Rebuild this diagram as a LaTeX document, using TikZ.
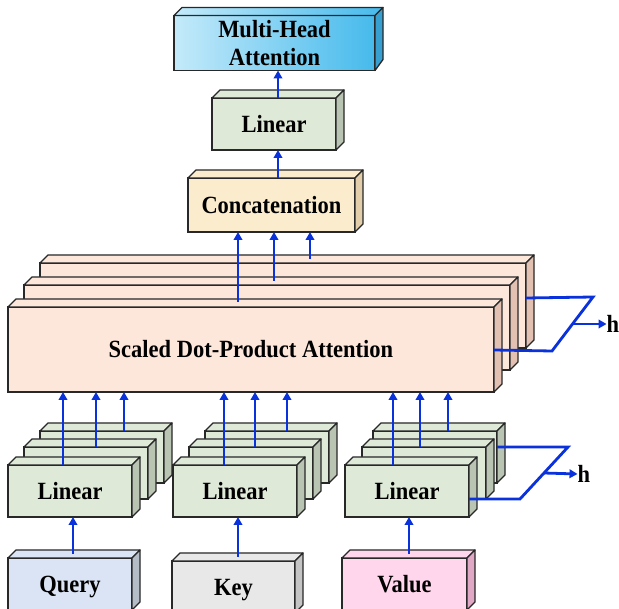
\documentclass[tikz,border=0pt]{standalone}
\usepackage{fontspec}
\setmainfont{Liberation Serif}
\usetikzlibrary{calc,arrows.meta}
\definecolor{arrblue}{RGB}{10,50,220}
\definecolor{edgec}{RGB}{40,40,40}
\definecolor{linF}{RGB}{222,233,216}
\definecolor{linS}{RGB}{185,196,178}
\definecolor{conF}{RGB}{252,236,206}
\definecolor{conS}{RGB}{226,206,170}
\definecolor{sdpF}{RGB}{253,230,218}
\definecolor{sdpS}{RGB}{226,192,178}
\definecolor{qF}{RGB}{219,228,244}
\definecolor{qS}{RGB}{180,188,200}
\definecolor{kF}{RGB}{232,232,232}
\definecolor{kS}{RGB}{196,196,196}
\definecolor{vF}{RGB}{255,214,236}
\definecolor{vS}{RGB}{224,168,196}
\definecolor{mhL}{RGB}{196,234,250}
\definecolor{mhR}{RGB}{70,186,236}
\definecolor{mhS}{RGB}{55,160,208}
\newcommand{\tallt}[1]{\raisebox{-3pt}[\height][\depth]{\scalebox{1}[1.1]{\begin{tabular}{@{}c@{}}#1\end{tabular}}}}
\tikzset{
  cubeface/.style={draw=edgec,line width=1.3pt,inner sep=0pt,outer sep=0pt,
    font=\bfseries\fontsize{22.5}{25}\selectfont,align=center},
  facedraw/.style={draw=edgec,line width=1.3pt,line join=round},
  arr/.style={draw=arrblue,line width=2.8pt,-{Triangle[length=8pt,width=8.5pt]}},
  conn/.style={draw=arrblue,line width=2.8pt},
  hlabel/.style={inner sep=0pt,font=\bfseries\fontsize{22.5}{25}\selectfont}
}
\newcommand{\cubebox}[8]{%
  \node[cubeface,#6,minimum width=#4pt,minimum height=#5pt] (#1) at (#2,#3) {#8};
  \path[facedraw,#6] (#1.north west) -- ++(8,-8) -- ($(#1.north east)+(8,-8)$) -- (#1.north east) -- cycle;
  \path[facedraw,fill=#7] (#1.north east) -- ++(8,-8) -- ++(0,#5) -- (#1.south east) -- cycle;
}
\begin{document}
\begin{tikzpicture}[x=1pt,y=-1pt]
\fill[white] (0,0) rectangle (619,609);
\useasboundingbox (0,0) rectangle (619,609);
% top
\cubebox{mha}{274.5}{43}{201}{52}{left color=mhL,right color=mhR}{mhS}{\tallt{Multi-Head\\Attention}}
\cubebox{lintop}{274}{124}{124}{52}{fill=linF}{linS}{\tallt{Linear}}
\cubebox{concat}{271.5}{205}{167}{54}{fill=conF}{conS}{\tallt{Concatenation}}
% scaled dot-product attention stack
\cubebox{sdpa3}{283}{305.5}{486}{85}{fill=sdpF}{sdpS}{}
\cubebox{sdpa2}{267}{327.5}{486}{85}{fill=sdpF}{sdpS}{}
\cubebox{sdpa1}{251}{349.5}{486}{85}{fill=sdpF}{sdpS}{\tallt{Scaled Dot-Product Attention}}
% linear stacks
\cubebox{lin1c}{102}{457}{124}{52}{fill=linF}{linS}{}
\cubebox{lin1b}{86}{473}{124}{52}{fill=linF}{linS}{}
\cubebox{lin1a}{70}{491}{124}{52}{fill=linF}{linS}{\tallt{Linear}}
\cubebox{lin2c}{267}{457}{124}{52}{fill=linF}{linS}{}
\cubebox{lin2b}{251}{473}{124}{52}{fill=linF}{linS}{}
\cubebox{lin2a}{235}{491}{124}{52}{fill=linF}{linS}{\tallt{Linear}}
\cubebox{lin3c}{435}{457}{124}{52}{fill=linF}{linS}{}
\cubebox{lin3b}{424}{473}{124}{52}{fill=linF}{linS}{}
\cubebox{lin3a}{407}{491}{124}{52}{fill=linF}{linS}{\tallt{Linear}}
% inputs
\cubebox{query}{70}{584}{124}{52}{fill=qF}{qS}{\tallt{Query}}
\cubebox{key}{233.5}{587}{123}{52}{fill=kF}{kS}{\tallt{Key}}
\cubebox{value}{404.5}{584}{125}{52}{fill=vF}{vS}{\tallt{Value}}
% arrows top
\draw[arr] ($(lintop.north)+(4,0)$) -- ($(mha.south)+(3.5,0)$);
\draw[arr] ($(concat.north)+(6.5,0)$) -- ($(lintop.south)+(4,0)$);
\draw[arr] ($(sdpa1.north)+(-13,-5)$) -- ($(concat.south)+(-33.5,0)$);
\draw[arr] ($(sdpa2.north)+(7,-4)$) -- ($(concat.south)+(2.5,0)$);
\draw[arr] ($(sdpa3.north)+(27,-4)$) -- ($(concat.south)+(38.5,0)$);
% linear to sdpa
\draw[arr] ($(lin1a.north)+(-7,0)$) -- ($(sdpa1.south)+(-188,0)$);
\draw[arr] ($(lin1b.north)+(10,0)$) -- ($(sdpa1.south)+(-155,0)$);
\draw[arr] ($(lin1c.north)+(22,0)$) -- ($(sdpa1.south)+(-127,0)$);
\draw[arr] ($(lin2a.north)+(-11,0)$) -- ($(sdpa1.south)+(-27,0)$);
\draw[arr] ($(lin2b.north)+(4,0)$) -- ($(sdpa1.south)+(4,0)$);
\draw[arr] ($(lin2c.north)+(20,0)$) -- ($(sdpa1.south)+(36,0)$);
\draw[arr] ($(lin3a.north)+(-14,0)$) -- ($(sdpa1.south)+(142,0)$);
\draw[arr] ($(lin3b.north)+(-4,0)$) -- ($(sdpa1.south)+(169,0)$);
\draw[arr] ($(lin3c.north)+(13,0)$) -- ($(sdpa1.south)+(197,0)$);
% inputs to linear
\draw[arr] ($(query.north)+(3,-4)$) -- ($(lin1a.south)+(3,0)$);
\draw[arr] ($(key.north)+(4.5,-4)$) -- ($(lin2a.south)+(3,0)$);
\draw[arr] ($(value.north)+(4.5,-4)$) -- ($(lin3a.south)+(2,0)$);
% h connectors
\coordinate (hr1) at (593,297);
\coordinate (hl1) at (552,351);
\draw[conn] ($(sdpa3.east)+(0,-7.5)$) -- (hr1) -- (hl1) -- ($(sdpa1.east)+(0,0.5)$);
\node[hlabel] (h1) at (613,324) {\tallt{h}};
\draw[arr] ($(hr1)!0.5!(hl1)$) -- (h1.west);
\coordinate (hr2) at (568,447);
\coordinate (hl2) at (520,499);
\draw[conn] ($(lin3c.east)+(0,-10)$) -- (hr2) -- (hl2) -- ($(lin3a.east)+(0,8)$);
\node[hlabel] (h2) at (584,474) {\tallt{h}};
\draw[arr] ($(hr2)!0.5!(hl2)$) -- (h2.west);
\end{tikzpicture}
\end{document}
